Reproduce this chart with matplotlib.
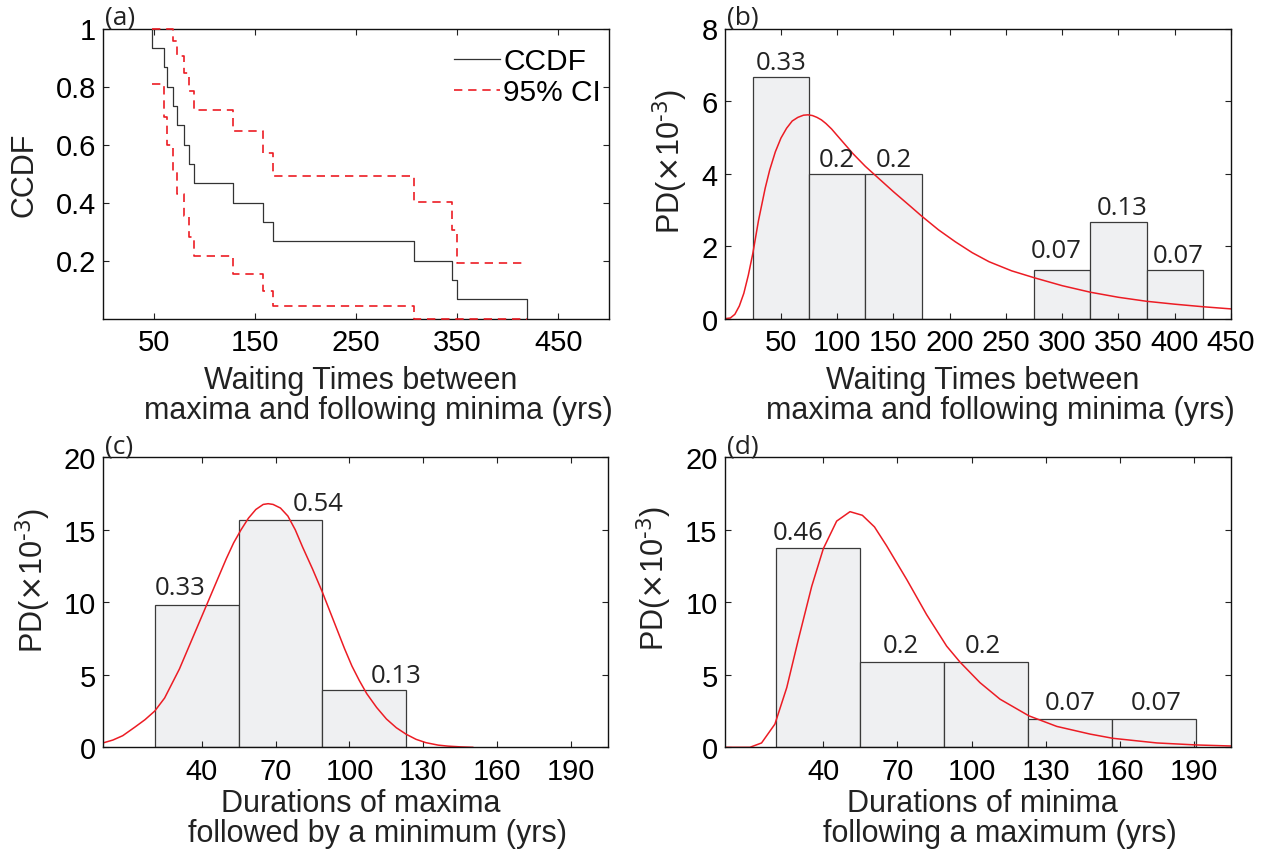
import matplotlib

matplotlib.use("Agg")
import matplotlib.pyplot as plt
import numpy as np

W, H = 1270, 853

# ---- (a) empirical survivor function with 95% bounds ----
wait_times = [48.4, 60.5, 63.2, 69.1, 73.6, 79.6, 84.5, 90.1,
              128.8, 158.3, 168.2, 307.0, 345.3, 350.2, 418.5]
ccdf = [0.933, 0.867, 0.800, 0.733, 0.667, 0.600, 0.533, 0.467,
        0.400, 0.333, 0.267, 0.200, 0.133, 0.067, 0.0]
ci_upper = [1.0, 1.0, 1.0, 0.957, 0.905, 0.848, 0.786, 0.719,
            0.648, 0.572, 0.490, 0.402, 0.305, 0.193, np.nan]
ci_lower = [0.807, 0.695, 0.598, 0.510, 0.428, 0.352, 0.281, 0.214,
            0.152, 0.095, 0.043, 0.0, 0.0, 0.0, np.nan]

# ---- (b) waiting times histogram (PD x 1e-3) + fit ----
b_edges = [25, 75, 125, 175, 225, 275, 325, 375]
b_width = 50
b_heights = [6.67, 4.0, 4.0, 0.0, 0.0, 1.33, 2.67, 1.33]
b_labels = ["0.33", "0.2", "0.2", "", "", "0.07", "0.13", "0.07"]
b_fit_x = [0, 5, 9, 13, 17, 21, 25, 30, 36, 40, 45, 50, 55, 60, 65, 70,
           74, 78, 82, 86, 90, 95, 100, 107, 114, 125, 135, 150, 165, 175,
           190, 205, 220, 235, 255, 275, 300, 325, 350, 375, 400, 425, 450]
b_fit_y = [0, 0.02, 0.12, 0.35, 0.7, 1.2, 1.8, 2.7, 3.6, 4.1, 4.6, 4.98,
           5.25, 5.45, 5.55, 5.61, 5.62, 5.6, 5.55, 5.48, 5.38, 5.23, 5.05,
           4.8, 4.55, 4.2, 3.92, 3.5, 3.1, 2.83, 2.45, 2.12, 1.82, 1.57,
           1.32, 1.13, 0.91, 0.73, 0.59, 0.48, 0.4, 0.33, 0.27]

# ---- (c) durations of maxima ----
c_edges = [21, 55, 89]
c_width = 34
c_heights = [9.80, 15.69, 3.92]
c_labels = ["0.33", "0.54", "0.13"]
c_fit_x = [0, 4, 8, 13, 17, 21, 25, 28, 31, 34, 37, 40, 43, 46, 50, 53,
           56, 59, 62, 65, 67, 69, 72, 75, 78, 81, 85, 89, 92, 95, 98, 101,
           104, 107, 111, 115, 119, 123, 127, 131, 136, 140, 145, 150]
c_fit_y = [0.3, 0.5, 0.8, 1.4, 1.9, 2.5, 3.4, 4.4, 5.4, 6.6, 7.8, 9.0,
           10.2, 11.4, 13.0, 14.1, 15.0, 15.8, 16.4, 16.75, 16.8, 16.75,
           16.5, 15.95, 15.0, 13.8, 12.3, 10.7, 9.4, 8.1, 6.8, 5.6, 4.6,
           3.7, 2.75, 1.95, 1.35, 0.9, 0.55, 0.32, 0.15, 0.08, 0.03, 0.0]

# ---- (d) durations of minima ----
d_edges = [21, 55, 89, 123, 157]
d_width = 34
d_heights = [13.73, 5.88, 5.88, 1.96, 1.96]
d_labels = ["0.46", "0.2", "0.2", "0.07", "0.07"]
d_fit_x = [0, 6.3, 10.3, 15.0, 20.4, 25.2, 29.9, 35.3, 40.0, 45.4, 50.8,
           55.8, 60.7, 65.6, 73.8, 81.8, 89.9, 95.3, 103.4, 111.5, 123.2,
           134.5, 148, 157.2, 175, 191.2, 205]
d_fit_y = [0, 0, 0, 0.30, 1.60, 4.12, 7.44, 11.1, 13.7, 15.6, 16.25, 16.0,
           15.2, 13.9, 11.56, 9.15, 6.98, 5.88, 4.46, 3.32, 2.17, 1.44, 0.91,
           0.62, 0.30, 0.16, 0.09]

# label nudges (pixels) so the numbers clear the fitted curve
b_nudge = [(0, 8), (0, 8), (0, 8), (0, 0), (0, 0), (-6, 13), (4, 8), (3, 8)]
c_nudge = [(-17, 11), (38, 10), (32, 8)]
d_nudge = [(-20, 9), (-2, 10), (-4, 10), (0, 10), (2, 10)]

RED = "#ec1c24"
BAR_FACE = "#eff0f2"
BAR_EDGE = "#3a3a3a"
INK = "#222222"
NUM_FONT = "Open Sans"
PD_LABEL = r"PD($\times$10$^{\text{-}3}$)"

plt.rcParams["font.family"] = "Liberation Sans"


def px_axes(fig, l, t, r, b):
    return fig.add_axes([l / W, 1 - b / H, (r - l) / W, (b - t) / H])


def style(ax, tag):
    ax.tick_params(direction="in", top=True, right=True, length=4.5,
                   width=0.8, labelsize=21, color=INK)
    ax.tick_params(axis="y", pad=5)
    ax.tick_params(axis="x", pad=7)
    for s in ax.spines.values():
        s.set_linewidth(1.0)
        s.set_color("#111111")
    ax.text(0.004, 0.995, tag, transform=ax.transAxes, ha="left", va="bottom",
            fontsize=19, family=NUM_FONT, color=INK)


def xlab(ax, top, bottom, pad=6):
    ax.set_xlabel(top + "\n    " + bottom, fontsize=22, linespacing=1.0,
                  x=0.51, labelpad=pad, color=INK)


def hist_panel(ax, edges, width, heights, labels, nudges, fx, fy):
    ax.bar(edges, heights, width=width, align="edge", color=BAR_FACE,
           edgecolor=BAR_EDGE, linewidth=0.9, zorder=1)
    for e, h, lab, (dx, dy) in zip(edges, heights, labels, nudges):
        if not lab:
            continue
        ax.annotate(lab, (e + width / 2, h), xytext=(dx * 0.72, dy * 0.72),
                    textcoords="offset points", ha="center", va="baseline",
                    fontsize=18.5, family=NUM_FONT, color=INK)
    ax.plot(fx, fy, color=RED, lw=1.1, zorder=2)


fig = plt.figure(figsize=(W / 100, H / 100), dpi=100)

# (a)
ax = px_axes(fig, 103, 29.5, 609, 319.5)
ax.step([wait_times[0]] + wait_times, [1.0] + ccdf, where="post",
        color="#333333", lw=0.9, label="CCDF", zorder=3)
ax.step(wait_times, ci_upper, where="post", color=RED, lw=1.2,
        ls=(0, (5, 3.5)), label="95% CI", zorder=3, clip_on=False)
ax.step(wait_times, ci_lower, where="post", color=RED, lw=1.2,
        ls=(0, (5, 3.5)), zorder=3, clip_on=False)
ax.set_xlim(0, 500)
ax.set_ylim(0, 1)
ax.set_xticks([50, 150, 250, 350, 450])
ax.set_yticks([0.2, 0.4, 0.6, 0.8, 1.0])
ax.set_yticklabels(["0.2", "0.4", "0.6", "0.8", "1"])
ax.set_ylabel("CCDF", fontsize=22, labelpad=12, color=INK)
style(ax, "(a)")
xlab(ax, "Waiting Times between", "maxima and following minima (yrs)")
leg = ax.legend(loc="upper right", bbox_to_anchor=(0.99, 0.945), frameon=False,
                fontsize=21.5, handlelength=1.55, handletextpad=0.1,
                labelspacing=0.1, borderaxespad=0.0, borderpad=0.1)
leg.set_zorder(5)

# (b)
ax = px_axes(fig, 724.7, 29.5, 1231, 319.7)
hist_panel(ax, b_edges, b_width, b_heights, b_labels, b_nudge, b_fit_x, b_fit_y)
ax.set_xlim(0, 450)
ax.set_ylim(0, 8)
ax.set_xticks([50, 100, 150, 200, 250, 300, 350, 400, 450])
ax.set_yticks([0, 2, 4, 6, 8])
ax.set_ylabel(PD_LABEL, fontsize=22, labelpad=8, color=INK, y=0.545)
style(ax, "(b)")
xlab(ax, "Waiting Times between", "maxima and following minima (yrs)")

# (c)
ax = px_axes(fig, 103, 458.3, 608.3, 748.3)
hist_panel(ax, c_edges, c_width, c_heights, c_labels, c_nudge, c_fit_x, c_fit_y)
ax.set_xlim(0, 205)
ax.set_ylim(0, 20)
ax.set_xticks([40, 70, 100, 130, 160, 190])
ax.set_yticks([0, 5, 10, 15, 20])
ax.set_ylabel(PD_LABEL, fontsize=22, labelpad=8, color=INK, y=0.58)
style(ax, "(c)")
xlab(ax, "Durations of maxima", "followed by a minimum (yrs)", pad=2)

# (d)
ax = px_axes(fig, 724.5, 458.3, 1231, 748.3)
hist_panel(ax, d_edges, d_width, d_heights, d_labels, d_nudge, d_fit_x, d_fit_y)
ax.set_xlim(0, 205)
ax.set_ylim(0, 20)
ax.set_xticks([40, 70, 100, 130, 160, 190])
ax.set_yticks([0, 5, 10, 15, 20])
ax.set_ylabel(PD_LABEL, fontsize=22, labelpad=8, color=INK, y=0.585)
style(ax, "(d)")
xlab(ax, "Durations of minima", "following a maximum (yrs)", pad=2)

fig.savefig("out.png", dpi=100)
